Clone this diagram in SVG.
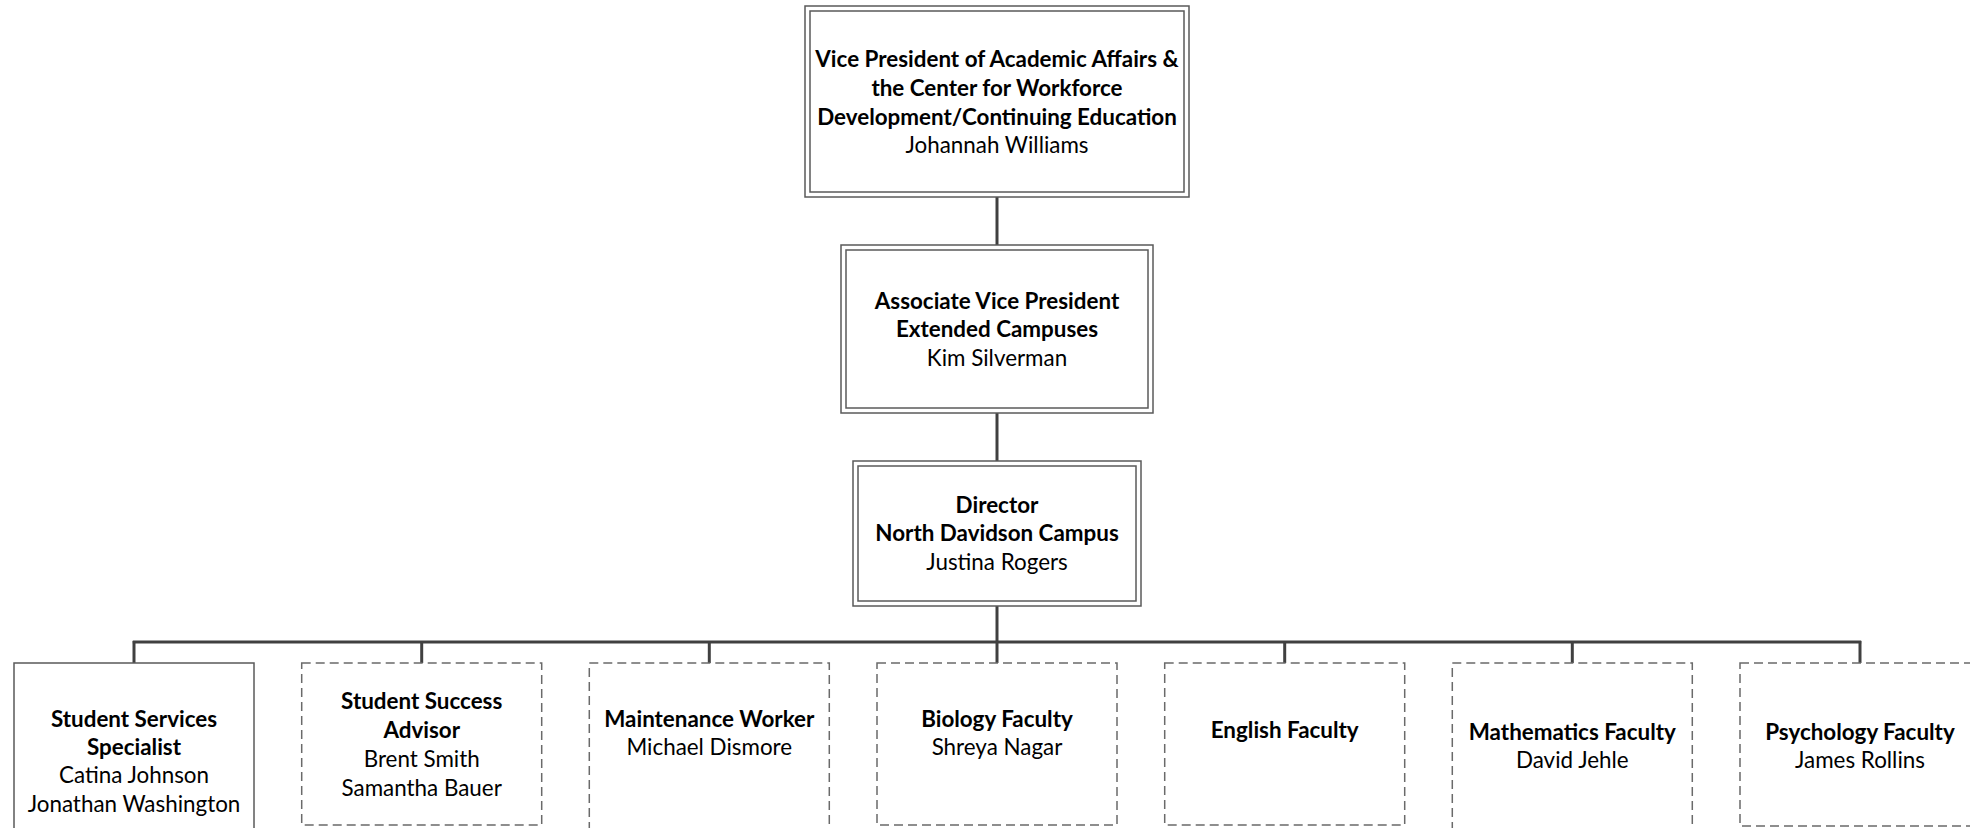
<svg xmlns="http://www.w3.org/2000/svg" width="1970" height="828" viewBox="0 0 1970 828">
<style>
.b{fill:#fff;stroke:#5a5a5a;stroke-width:1.5}
.d{fill:#fff;stroke:#6a6a6a;stroke-width:1.5;stroke-dasharray:9 5}
.t{font-family:Lato,"Liberation Sans",sans-serif;font-size:22.4px;fill:#000;text-anchor:middle}
.h{font-weight:bold}
.c{stroke:#404040;stroke-width:3;fill:none}
</style>
<rect width="1970" height="828" fill="#fff"/>
<g id="connectors">
<line class="c" x1="997" y1="197" x2="997" y2="245"/>
<line class="c" x1="997" y1="413" x2="997" y2="461"/>
<line class="c" x1="997" y1="606" x2="997" y2="663"/>
<line class="c" x1="132.8" y1="642" x2="1861.2" y2="642" stroke-width="3.5"/>
<line class="c" x1="134" y1="641" x2="134" y2="663" stroke-width="2.5"/>
<line class="c" x1="421.7" y1="641" x2="421.7" y2="663" stroke-width="2.5"/>
<line class="c" x1="709.3" y1="641" x2="709.3" y2="663" stroke-width="2.5"/>
<line class="c" x1="1284.7" y1="641" x2="1284.7" y2="663" stroke-width="2.5"/>
<line class="c" x1="1572.3" y1="641" x2="1572.3" y2="663" stroke-width="2.5"/>
<line class="c" x1="1860" y1="641" x2="1860" y2="663" stroke-width="2.5"/>
</g>
<g id="vp">
<rect class="b" x="805" y="6" width="384" height="191"/>
<rect class="b" x="810" y="11" width="374" height="181"/>
<text class="t h" x="997" y="67">Vice President of Academic Affairs &amp;</text>
<text class="t h" x="997" y="96">the Center for Workforce</text>
<text class="t h" x="997" y="125">Development/Continuing Education</text>
<text class="t" x="997" y="153">Johannah Williams</text>
</g>
<g id="avp">
<rect class="b" x="841" y="245" width="312" height="168"/>
<rect class="b" x="846" y="250" width="302" height="158"/>
<text class="t h" x="997" y="309">Associate Vice President</text>
<text class="t h" x="997" y="337">Extended Campuses</text>
<text class="t" x="997" y="366">Kim Silverman</text>
</g>
<g id="director">
<rect class="b" x="853" y="461" width="288" height="145"/>
<rect class="b" x="858" y="466" width="278" height="135"/>
<text class="t h" x="997" y="513">Director</text>
<text class="t h" x="997" y="541">North Davidson Campus</text>
<text class="t" x="997" y="570">Justina Rogers</text>
</g>
<g id="student-services">
<rect class="b" x="14" y="663" width="240" height="180"/>
<text class="t h" x="134" y="727">Student Services</text>
<text class="t h" x="134" y="755">Specialist</text>
<text class="t" x="134" y="783">Catina Johnson</text>
<text class="t" x="134" y="812">Jonathan Washington</text>
</g>
<g id="student-success">
<rect class="d" x="301.7" y="663" width="240" height="162"/>
<text class="t h" x="421.7" y="709">Student Success</text>
<text class="t h" x="421.7" y="738">Advisor</text>
<text class="t" x="421.7" y="767">Brent Smith</text>
<text class="t" x="421.7" y="796">Samantha Bauer</text>
</g>
<g id="maintenance">
<rect class="d" x="589.3" y="663" width="240" height="180"/>
<text class="t h" x="709.3" y="727">Maintenance Worker</text>
<text class="t" x="709.3" y="755">Michael Dismore</text>
</g>
<g id="biology">
<rect class="d" x="877" y="663" width="240" height="162"/>
<text class="t h" x="997" y="727">Biology Faculty</text>
<text class="t" x="997" y="755">Shreya Nagar</text>
</g>
<g id="english">
<rect class="d" x="1164.7" y="663" width="240" height="162"/>
<text class="t h" x="1284.7" y="738">English Faculty</text>
</g>
<g id="mathematics">
<rect class="d" x="1452.3" y="663" width="240" height="180"/>
<text class="t h" x="1572.3" y="740">Mathematics Faculty</text>
<text class="t" x="1572.3" y="768">David Jehle</text>
</g>
<g id="psychology">
<rect class="d" x="1740" y="663" width="260" height="163"/>
<text class="t h" x="1860" y="740">Psychology Faculty</text>
<text class="t" x="1860" y="768">James Rollins</text>
</g>
</svg>
